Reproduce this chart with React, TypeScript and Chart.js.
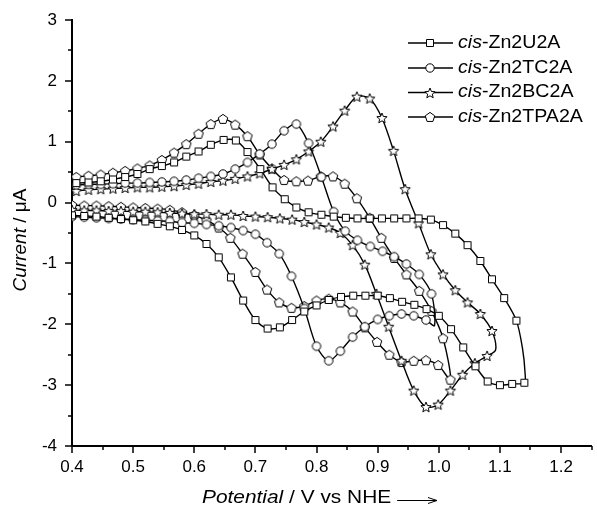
import React, { useEffect, useRef } from 'react';
import { Chart, registerables } from 'chart.js';

Chart.register(...registerables);

const FONT = '"Liberation Sans", Arial, Helvetica, sans-serif';

// ---- legend / series names ----
const namePrefix = 'cis';
const seriesNames = ['Zn2U2A', 'Zn2TC2A', 'Zn2BC2A', 'Zn2TPA2A'];
const markerKinds = ['square', 'circle', 'star', 'pentagon'];

// ---- axis ticks ----
const xMajorTicks = [0.4, 0.5, 0.6, 0.7, 0.8, 0.9, 1.0, 1.1, 1.2];
const xMinorTicks = [0.45, 0.55, 0.65, 0.75, 0.85, 0.95, 1.05, 1.15, 1.25];
const yMajorTicks = [-4, -3, -2, -1, 0, 1, 2, 3];
const yMinorTicks = [-3.5, -2.5, -1.5, -0.5, 0.5, 1.5, 2.5];

// ---- cis-Zn2U2A (squares): potential (V) and current (uA) ----
const u2aV = [
  0.407, 0.427, 0.447, 0.467, 0.487, 0.507, 0.527, 0.547, 0.567, 0.587,
  0.607, 0.627, 0.648, 0.668, 0.687, 0.708, 0.728, 0.748, 0.767, 0.787,
  0.808, 0.828, 0.848, 0.867, 0.887, 0.907, 0.927, 0.947, 0.967, 0.987,
  1.007, 1.027, 1.047, 1.068, 1.087, 1.107, 1.127, 1.137, 1.141, 1.140,
  1.12, 1.10, 1.08, 1.06, 1.04, 1.02, 1.00, 0.98, 0.96, 0.94,
  0.92, 0.90, 0.88, 0.86, 0.84, 0.82, 0.80, 0.78, 0.76, 0.74,
  0.72, 0.70, 0.68, 0.66, 0.64, 0.62, 0.60, 0.58, 0.56, 0.54,
  0.52, 0.50, 0.48, 0.46, 0.44, 0.42, 0.40,
];
const u2aI = [
  0.32, 0.33, 0.35, 0.38, 0.42, 0.47, 0.55, 0.60, 0.66, 0.755,
  0.84, 0.95, 1.03, 1.02, 0.83, 0.55, 0.25, 0.055, -0.08, -0.16,
  -0.20, -0.23, -0.25, -0.26, -0.26, -0.26, -0.26, -0.26, -0.26, -0.28,
  -0.37, -0.51, -0.70, -0.96, -1.26, -1.57, -1.94, -2.40, -2.78, -2.96,
  -2.98, -3.00, -2.94, -2.69, -2.38, -2.08, -1.86, -1.75, -1.68, -1.63,
  -1.57, -1.53, -1.53, -1.53, -1.55, -1.60, -1.69, -1.79, -1.93, -2.05,
  -2.07, -1.93, -1.61, -1.23, -0.90, -0.68, -0.54, -0.45, -0.39, -0.35,
  -0.31, -0.29, -0.27, -0.25, -0.23, -0.22, -0.21,
];
const u2aPlain = [37, 38];

// ---- cis-Zn2TC2A (circles) ----
const tc2aV = [
  0.407, 0.427, 0.447, 0.467, 0.487, 0.507, 0.527, 0.547, 0.567, 0.587,
  0.607, 0.627, 0.647, 0.667, 0.687, 0.707, 0.727, 0.747, 0.767, 0.787,
  0.808, 0.828, 0.847, 0.867, 0.888, 0.908, 0.927, 0.947, 0.968, 0.988,
  0.993,
  0.979, 0.959, 0.939, 0.919, 0.90, 0.879, 0.859, 0.839, 0.82, 0.80,
  0.78, 0.759, 0.739, 0.719, 0.70, 0.68, 0.66, 0.64, 0.62, 0.60,
  0.58, 0.56, 0.54, 0.52, 0.50, 0.48, 0.46, 0.44, 0.42, 0.40,
];
const tc2aI = [
  0.29, 0.30, 0.30, 0.31, 0.32, 0.32, 0.33, 0.34, 0.35, 0.37,
  0.40, 0.43, 0.47, 0.55, 0.66, 0.80, 0.96, 1.18, 1.29, 0.975,
  0.42, -0.15, -0.47, -0.62, -0.72, -0.80, -0.89, -1.01, -1.18, -1.50,
  -2.02,
  -1.93, -1.86, -1.83, -1.86, -1.92, -2.04, -2.21, -2.44, -2.60, -2.36,
  -1.74, -1.21, -0.84, -0.66, -0.52, -0.46, -0.41, -0.38, -0.36, -0.34,
  -0.33, -0.31, -0.30, -0.29, -0.28, -0.27, -0.26, -0.25, -0.24, -0.23,
];
const tc2aPlain = [30];

// ---- cis-Zn2BC2A (stars) ----
const bc2aV = [
  0.407, 0.427, 0.447, 0.467, 0.487, 0.507, 0.527, 0.547, 0.567, 0.587,
  0.607, 0.627, 0.647, 0.667, 0.687, 0.707, 0.727, 0.747, 0.767, 0.787,
  0.807, 0.827, 0.846, 0.866, 0.887, 0.907, 0.926, 0.945, 0.967, 0.987,
  1.007, 1.027, 1.047, 1.068, 1.087, 1.093,
  1.079, 1.059, 1.039, 1.019, 0.999, 0.979, 0.959, 0.939, 0.918, 0.898,
  0.879, 0.859, 0.839, 0.82, 0.80, 0.78, 0.76, 0.74, 0.72, 0.70,
  0.68, 0.66, 0.64, 0.62, 0.60, 0.58, 0.56, 0.54, 0.52, 0.50,
  0.48, 0.46, 0.44, 0.42, 0.40,
];
const bc2aI = [
  0.19, 0.21, 0.22, 0.23, 0.24, 0.25, 0.25, 0.26, 0.27, 0.29,
  0.31, 0.34, 0.36, 0.39, 0.43, 0.48, 0.55, 0.62, 0.71, 0.84,
  1.00, 1.25, 1.51, 1.74, 1.71, 1.39, 0.85, 0.22, -0.34, -0.85,
  -1.18, -1.44, -1.64, -1.83, -2.11, -2.42,
  -2.52, -2.64, -2.83, -3.09, -3.32, -3.36, -3.09, -2.60, -2.04, -1.50,
  -1.02, -0.70, -0.50, -0.41, -0.36, -0.32, -0.28, -0.26, -0.24, -0.23,
  -0.22, -0.20, -0.20, -0.19, -0.19, -0.18, -0.17, -0.16, -0.15, -0.15,
  -0.14, -0.14, -0.13, -0.13, -0.12,
];
const bc2aPlain = [35];

// ---- cis-Zn2TPA2A (pentagons) ----
const tpa2aV = [
  0.407, 0.427, 0.447, 0.467, 0.487, 0.507, 0.527, 0.547, 0.567, 0.587,
  0.607, 0.627, 0.647, 0.667, 0.687, 0.707, 0.727, 0.747, 0.767, 0.786,
  0.807, 0.827, 0.846, 0.866, 0.887, 0.906, 0.927, 0.947, 0.968, 0.988,
  1.007, 1.019,
  0.999, 0.979, 0.959, 0.939, 0.919, 0.899, 0.879, 0.859, 0.839, 0.82,
  0.80, 0.78, 0.759, 0.739, 0.719, 0.70, 0.679, 0.659, 0.64, 0.62,
  0.60, 0.58, 0.56, 0.54, 0.52, 0.50, 0.48, 0.46, 0.44, 0.42, 0.40,
];
const tpa2aI = [
  0.42, 0.44, 0.46, 0.49, 0.52, 0.56, 0.61, 0.70, 0.82, 0.96,
  1.13, 1.29, 1.375, 1.28, 1.09, 0.79, 0.56, 0.37, 0.35, 0.36,
  0.43, 0.43, 0.31, 0.07, -0.25, -0.58, -0.91, -1.18, -1.45, -1.78,
  -2.23, -2.91,
  -2.67, -2.59, -2.60, -2.62, -2.50, -2.29, -2.05, -1.79, -1.64, -1.58,
  -1.61, -1.70, -1.73, -1.64, -1.43, -1.14, -0.84, -0.58, -0.41, -0.29,
  -0.21, -0.16, -0.12, -0.10, -0.09, -0.08, -0.07, -0.06, -0.05, -0.05, -0.04,
];
const tpa2aPlain: number[] = [];

const seriesV = [u2aV, tc2aV, bc2aV, tpa2aV];
const seriesI = [u2aI, tc2aI, bc2aI, tpa2aI];
const seriesPlain = [u2aPlain, tc2aPlain, bc2aPlain, tpa2aPlain];

function makeMarker(kind: string): HTMLCanvasElement {
  const s = 14;
  const c = document.createElement('canvas');
  c.width = s;
  c.height = s;
  const g = c.getContext('2d')!;
  g.fillStyle = '#ffffff';
  g.strokeStyle = '#000000';
  g.lineWidth = 1;
  g.beginPath();
  if (kind === 'square') {
    g.rect(3.5, 3.5, 7, 7);
  } else if (kind === 'circle') {
    g.arc(7, 7, 4.2, 0, Math.PI * 2);
  } else if (kind === 'star') {
    const R = 5.4, r = 2.4, cx = 7, cy = 7.4;
    for (let k = 0; k < 10; k++) {
      const ang = -Math.PI / 2 + (k * Math.PI) / 5;
      const rr = k % 2 === 0 ? R : r;
      const px = cx + rr * Math.cos(ang);
      const py = cy + rr * Math.sin(ang);
      if (k === 0) g.moveTo(px, py); else g.lineTo(px, py);
    }
    g.closePath();
  } else {
    const R = 5, cx = 7, cy = 7.4;
    for (let k = 0; k < 5; k++) {
      const ang = -Math.PI / 2 + (k * 2 * Math.PI) / 5;
      const px = cx + R * Math.cos(ang);
      const py = cy + R * Math.sin(ang);
      if (k === 0) g.moveTo(px, py); else g.lineTo(px, py);
    }
    g.closePath();
  }
  g.fill();
  g.stroke();
  return c;
}

// draws text pieces [text, italic] in sequence, stretched horizontally by sx
function drawRich(ctx: CanvasRenderingContext2D, parts: [string, boolean][], x: number, y: number, size: number, sx: number, center: boolean) {
  const fonts = parts.map(([, itl]) => `${itl ? 'italic ' : ''}${size}px ${FONT}`);
  let total = 0;
  parts.forEach(([t], k) => { ctx.font = fonts[k]; total += ctx.measureText(t).width; });
  ctx.save();
  ctx.translate(x, y);
  ctx.scale(sx, 1);
  let cx = center ? -total / 2 : 0;
  parts.forEach(([t], k) => {
    ctx.font = fonts[k];
    ctx.fillText(t, cx, 0);
    cx += ctx.measureText(t).width;
  });
  ctx.restore();
  return total * sx;
}

export default function App() {
  const ref = useRef<HTMLCanvasElement | null>(null);

  useEffect(() => {
    const canvas = ref.current;
    if (!canvas) return;
    const markers = markerKinds.map(makeMarker);

    const datasets = seriesNames.map((name, si) => {
      const plain = seriesPlain[si];
      return {
        label: namePrefix + '-' + name,
        data: seriesV[si].map((v, k) => ({ x: v, y: seriesI[si][k] })),
        showLine: true,
        borderColor: '#000000',
        borderWidth: 1.4,
        tension: 0.3,
        pointStyle: markers[si],
        pointRadius: (c: any) => (plain.includes(c.dataIndex) ? 0 : 4),
        pointHoverRadius: 0,
        backgroundColor: '#ffffff',
      };
    });

    const decor = {
      id: 'decor',
      afterDraw(chart: any) {
        const ctx: CanvasRenderingContext2D = chart.ctx;
        const xs = chart.scales.x;
        const ys = chart.scales.y;
        const a = chart.chartArea;
        ctx.save();
        ctx.strokeStyle = '#000';
        ctx.fillStyle = '#000';
        ctx.lineWidth = 1.5;
        const vt = (vals: number[], len: number) => {
          for (const v of vals) {
            const px = Math.round(xs.getPixelForValue(v));
            ctx.beginPath();
            ctx.moveTo(px, a.bottom);
            ctx.lineTo(px, a.bottom + len);
            ctx.stroke();
          }
        };
        const ht = (vals: number[], len: number) => {
          for (const v of vals) {
            const py = Math.round(ys.getPixelForValue(v));
            ctx.beginPath();
            ctx.moveTo(a.left, py);
            ctx.lineTo(a.left - len, py);
            ctx.stroke();
          }
        };
        vt(xMajorTicks, 7);
        vt(xMinorTicks, 4);
        ht(yMajorTicks, 7);
        ht(yMinorTicks, 4);

        ctx.textBaseline = 'middle';
        ctx.textAlign = 'left';

        // y title (rotated)
        ctx.save();
        ctx.translate(21, 240);
        ctx.rotate(-Math.PI / 2);
        drawRich(ctx, [['Current', true], [' / \u03bcA', false]], 0, 0, 19, 1, true);
        ctx.restore();

        // x title with arrow
        const tw = drawRich(ctx, [['Potential', true], [' / V vs NHE', false]], 202, 498, 18, 1.16, false);
        const ax0 = 202 + tw + 6, ax1 = 437, ay = 500;
        ctx.lineWidth = 1;
        ctx.beginPath();
        ctx.moveTo(ax0, ay + 0.5);
        ctx.lineTo(ax1, ay + 0.5);
        ctx.moveTo(ax1 - 9, ay - 2.5);
        ctx.lineTo(ax1, ay + 0.5);
        ctx.lineTo(ax1 - 9, ay + 3.5);
        ctx.stroke();

        // legend
        const rows = [43, 68, 92.5, 117];
        seriesNames.forEach((name, si) => {
          const y = rows[si];
          ctx.lineWidth = 1.4;
          ctx.beginPath();
          ctx.moveTo(408, y);
          ctx.lineTo(453, y);
          ctx.stroke();
          const m = markers[si];
          ctx.drawImage(m, 430 - m.width / 2, Math.round(y) - m.height / 2);
          drawRich(ctx, [[namePrefix, true], ['-' + name, false]], 458, y, 17.5, 1.12, false);
        });
        ctx.restore();
      },
    };

    const chart = new Chart(canvas, {
      type: 'scatter',
      data: { datasets: datasets as any },
      plugins: [decor],
      options: {
        responsive: false,
        animation: false,
        events: [],
        devicePixelRatio: 1,
        layout: { padding: { top: 20, right: 1, left: 0, bottom: 0 } },
        plugins: {
          legend: { display: false },
          tooltip: { enabled: false },
        },
        scales: {
          x: {
            type: 'linear',
            min: 0.4,
            max: 1.25,
            afterFit: (s: any) => {
              s.height = 60;
              s.paddingLeft = 0;
              s.paddingRight = 0;
            },
            grid: { display: false, drawTicks: false },
            border: { display: true, color: '#000', width: 2 },
            ticks: {
              stepSize: 0.1,
              includeBounds: false,
              padding: 11,
              color: '#000',
              font: { family: FONT, size: 17 },
              maxRotation: 0,
              callback: (v: any) => Number(v).toFixed(1),
            },
          },
          y: {
            type: 'linear',
            min: -4,
            max: 3,
            afterFit: (s: any) => {
              s.width = 72;
              s.paddingTop = 0;
              s.paddingBottom = 0;
            },
            grid: { display: false, drawTicks: false },
            border: { display: true, color: '#000', width: 2 },
            ticks: {
              stepSize: 1,
              padding: 15,
              crossAlign: 'near',
              color: '#000',
              font: { family: FONT, size: 17 },
              callback: (v: any) => String(v),
            },
          },
        },
      } as any,
    });
    return () => chart.destroy();
  }, []);

  return (
    <div style={{ position: 'absolute', left: 0, top: 0, width: 597, height: 506, background: '#fff' }}>
      <canvas ref={ref} width={597} height={506} style={{ width: 597, height: 506, display: 'block' }} />
    </div>
  );
}
